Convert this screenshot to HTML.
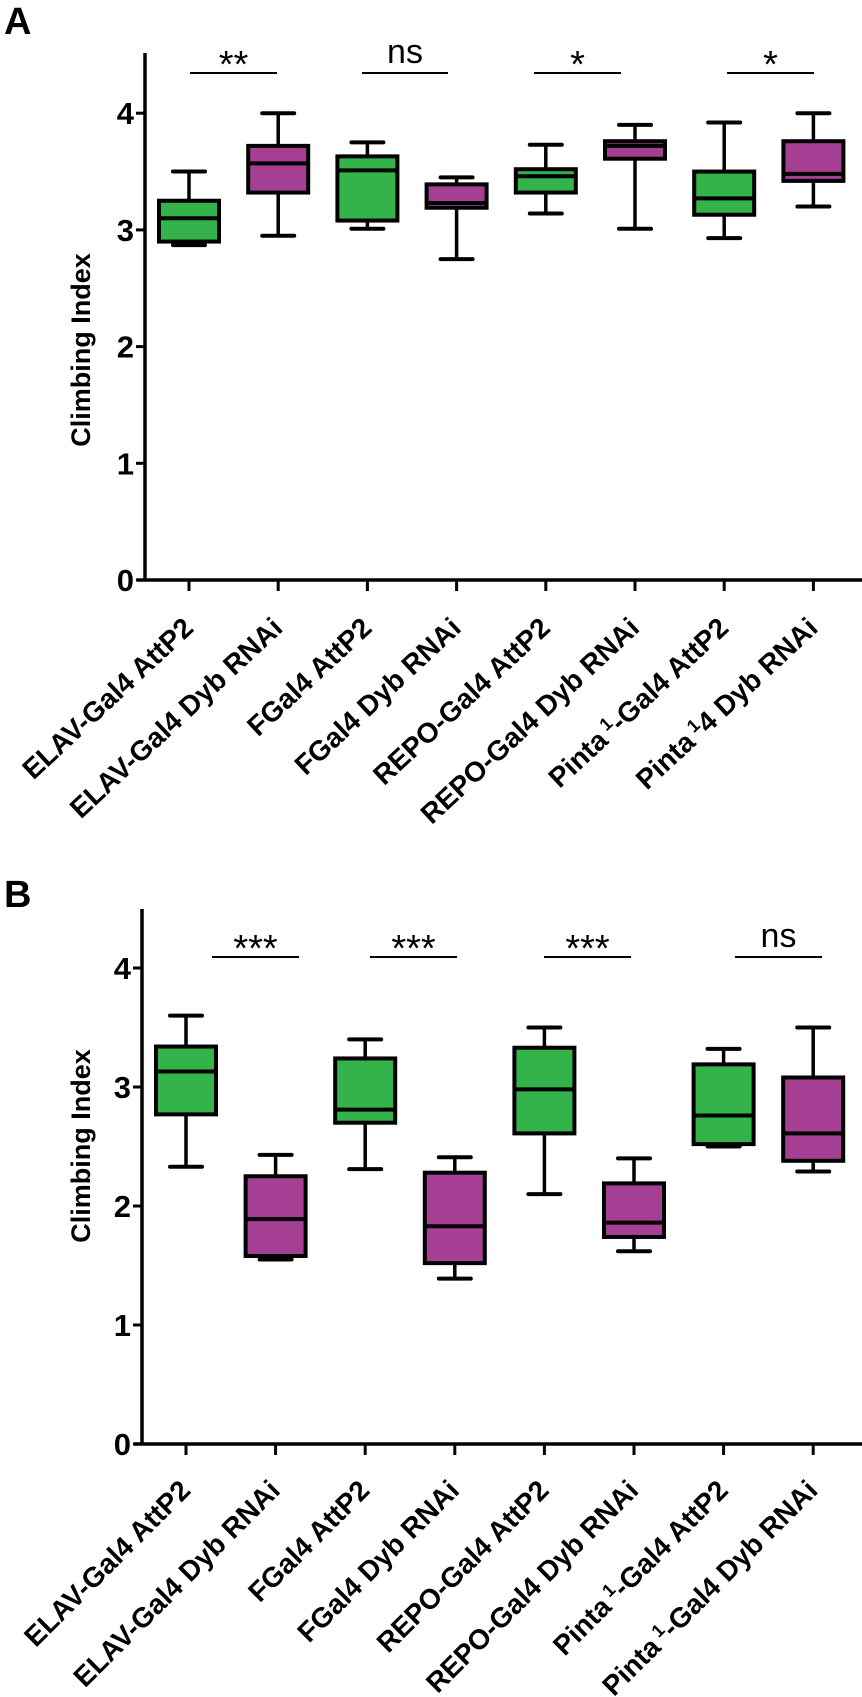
<!DOCTYPE html>
<html><head><meta charset="utf-8"><style>
html,body{margin:0;padding:0;background:#fff;}
svg{display:block;font-family:"Liberation Sans",Arial,sans-serif;}
</style></head><body>
<svg id="chart" width="862" height="1697" viewBox="0 0 862 1697"></svg>
<script>
const categoriesA = ["ELAV-Gal4 AttP2","ELAV-Gal4 Dyb RNAi","FGal4 AttP2","FGal4 Dyb RNAi","REPO-Gal4 AttP2","REPO-Gal4 Dyb RNAi","Pinta|1|-Gal4 AttP2","Pinta|1|4 Dyb RNAi"];
const categoriesB = ["ELAV-Gal4 AttP2","ELAV-Gal4 Dyb RNAi","FGal4 AttP2","FGal4 Dyb RNAi","REPO-Gal4 AttP2","REPO-Gal4 Dyb RNAi","Pinta|1|-Gal4 AttP2","Pinta|1|-Gal4 Dyb RNAi"];
const minA = [2.87,2.95,3.01,2.75,3.14,3.01,2.93,3.20];
const q1A  = [2.90,3.32,3.08,3.19,3.32,3.61,3.13,3.42];
const medA = [3.10,3.57,3.51,3.23,3.46,3.72,3.27,3.48];
const q3A  = [3.25,3.72,3.63,3.39,3.52,3.76,3.50,3.76];
const maxA = [3.50,4.00,3.75,3.45,3.73,3.90,3.92,4.00];
const minB = [2.33,1.55,2.31,1.39,2.10,1.62,2.50,2.29];
const q1B  = [2.77,1.58,2.70,1.52,2.61,1.74,2.52,2.38];
const medB = [3.13,1.89,2.81,1.83,2.98,1.86,2.76,2.61];
const q3B  = [3.34,2.25,3.24,2.28,3.33,2.19,3.19,3.08];
const maxB = [3.60,2.43,3.40,2.41,3.50,2.40,3.32,3.50];
const yTicks = [0,1,2,3,4];
const sigA = ["**","ns","*","*"];
const sigB = ["***","***","***","ns"];

const NS="http://www.w3.org/2000/svg";
const svg=document.getElementById('chart');
function mk(tag,attrs,parent){const e=document.createElementNS(NS,tag);for(const k in attrs)e.setAttribute(k,attrs[k]);(parent||svg).appendChild(e);return e;}

function panel(cfg){
  const g=mk('g',{});
  
  
  const y=v=>cfg.y0-cfg.unit*v;
  const x=i=>cfg.x0+cfg.step*i;
  const lab=mk('text',{x:4,y:cfg.labelY,'font-size':38,'font-weight':'bold'},g);
  lab.textContent=cfg.letter;
  
  
  const ya=mk('line',{x1:cfg.ax,y1:cfg.top,x2:cfg.ax,y2:cfg.y0+1.5,stroke:'#000','stroke-width':3.5},g);
  
  
  const xa=mk('line',{x1:cfg.ax-8,y1:cfg.y0,x2:862,y2:cfg.y0,stroke:'#000','stroke-width':3.5},g);
  
  
  yTicks.forEach(t=>{
    const tk=mk('line',{x1:cfg.ax-9,y1:y(t),x2:cfg.ax,y2:y(t),stroke:'#000','stroke-width':3},g);
    
    
    const tl=mk('text',{x:cfg.ax-11,y:y(t)+11,'font-size':31,'font-weight':'bold','text-anchor':'end'},g);
    tl.textContent=t;
    
    
  });
  const yt=mk('text',{x:0,y:0,'font-size':27,'font-weight':'bold','text-anchor':'middle',transform:`translate(${cfg.titleX},${cfg.titleY}) rotate(-90)`},g);
  yt.textContent='Climbing Index';
  
  
  cfg.cats.forEach((c,i)=>{
    const xi=x(i);
    const tk=mk('line',{x1:xi,y1:cfg.y0,x2:xi,y2:cfg.y0+11,stroke:'#000','stroke-width':3},g);
    
    
    const t=mk('text',{x:0,y:0,'font-size':28,'font-weight':'bold','text-anchor':'end',transform:`translate(${xi+cfg.lblDx},${cfg.y0+cfg.lblDy}) rotate(${cfg.lblRot})`},g);
    
    
    const parts=c.split('|');
    parts.forEach((p,k)=>{
      const ts=mk('tspan',{},t);
      if(k===1){ts.setAttribute('baseline-shift','super');ts.setAttribute('font-size','18');}
      ts.textContent=(k===1?' ':'')+p;
    });
    const col=i%2===0?'#33b34a':'#a43f93';
    const bg=mk('g',{},g);
    
    
    const hw=30,cw=16;
    mk('line',{x1:xi,y1:y(cfg.max[i]),x2:xi,y2:y(cfg.q3[i]),stroke:'#000','stroke-width':3.5},bg);
    mk('line',{x1:xi,y1:y(cfg.q1[i]),x2:xi,y2:y(cfg.min[i]),stroke:'#000','stroke-width':3.5},bg);
    mk('line',{x1:xi-cw,y1:y(cfg.max[i]),x2:xi+cw,y2:y(cfg.max[i]),stroke:'#000','stroke-width':4,'stroke-linecap':'round'},bg);
    mk('line',{x1:xi-cw,y1:y(cfg.min[i]),x2:xi+cw,y2:y(cfg.min[i]),stroke:'#000','stroke-width':4,'stroke-linecap':'round'},bg);
    mk('rect',{x:xi-hw,y:y(cfg.q3[i]),width:hw*2,height:y(cfg.q1[i])-y(cfg.q3[i]),fill:col,stroke:'#000','stroke-width':4},bg);
    mk('line',{x1:xi-hw,y1:y(cfg.med[i]),x2:xi+hw,y2:y(cfg.med[i]),stroke:'#000','stroke-width':4},bg);
  });
  cfg.sig.forEach((s,j)=>{
    const [a,b]=cfg.sigX[j];
    const l=mk('line',{x1:a,y1:cfg.sigY,x2:b,y2:cfg.sigY,stroke:'#000','stroke-width':2},g);
    
    
    const t=mk('text',{x:(a+b)/2,y:s==='ns'?cfg.sigY-10:cfg.sigY+4,'font-size':s==='ns'?34:38,'text-anchor':'middle'},g);
    t.textContent=s;
    
    
  });
}
panel({name:'panel-a',letter:'A',labelY:34,ax:145,top:53,y0:580,unit:116.7,x0:189,step:89.2,titleX:90,titleY:350,
  lblDx:6,lblDy:50,lblRot:-43,
  cats:categoriesA,min:minA,q1:q1A,med:medA,q3:q3A,max:maxA,sig:sigA,sigY:73,
  sigX:[[190,277],[362,448],[534,621],[727,814]]});
panel({name:'panel-b',letter:'B',labelY:907,ax:142,top:909,y0:1444,unit:119,x0:186,step:89.6,titleX:90,titleY:1146,
  lblDx:6,lblDy:48,lblRot:-45,
  cats:categoriesB,min:minB,q1:q1B,med:medB,q3:q3B,max:maxB,sig:sigB,sigY:957,
  sigX:[[212,299],[370,457],[544,631],[735,822]]});
</script>
</body></html>
